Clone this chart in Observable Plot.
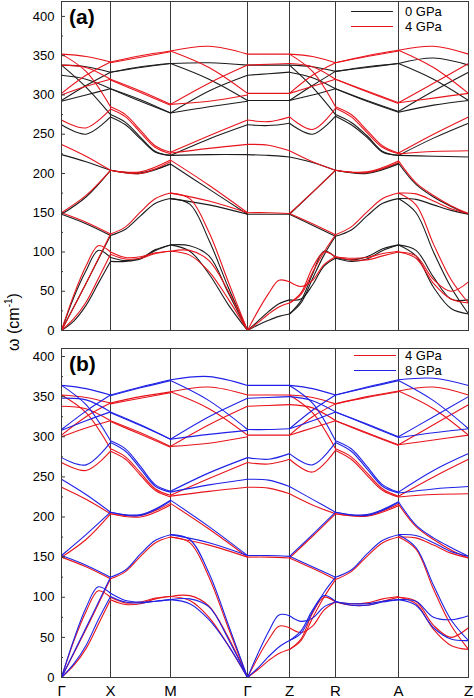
<!DOCTYPE html>
<html><head><meta charset="utf-8">
<script src="https://cdn.jsdelivr.net/npm/d3@7"></script>
<script src="https://cdn.jsdelivr.net/npm/@observablehq/plot@0.6"></script>
<style>
body{margin:0;background:#fff;font-family:"Liberation Sans",Arial,sans-serif;}
#wrap{position:relative;width:474px;height:698px;overflow:hidden;}
#wrap svg{display:block;}
.lab{position:absolute;font-weight:bold;font-size:21px;color:#000;line-height:1;}
.leg{position:absolute;font-size:13px;color:#000;line-height:1;}
.legline{position:absolute;height:0;border-top:1.2px solid;}
#ytitle{position:absolute;left:13px;top:322px;transform:translate(-50%,-50%) rotate(-90deg);font-size:16px;white-space:nowrap;}
#ytitle sup{font-size:10px;}
</style></head><body><div id="wrap">
<div id="pa"></div><div id="pb"></div>
</div>
<script>
// high-symmetry path (cumulative distance) and labels
const kLabels = ["Γ","X","M","Γ","Z","R","A","Z"];
const kPos = [0, 49, 109, 186, 228, 274, 337, 407];
const yTicks = [0,50,100,150,200,250,300,350,400];
const yMinor = [25,75,125,175,225,275,325,375];

// ---------- 0 GPa (black) : values spread evenly along each segment ----------
const g0_GX = [[338,336,329],[338,310,275],[325,320,308],[293,312,329],[292,300,308],[262,250,272],[224,215,204],[148,170,204],[148,136,121],[0,60,121],[0,42,76,102,93],[0,12,32,60,88]];
const g0_XM = [[329,336,340],[329,335,340],[308,294,277],[308,292,277],[275,265,246,228,223],[272,262,244,227,223],[204,201,212],[204,200,212],[121,129,146,162,168],[93,89,92,103,109],[88,88,91,102,109]];
const g0_MG = [[340,341,338],[340,320,293],[277,305,325],[277,285,292],[223,244,262],[223,224,224],[212,180,148],[168,160,148],[168,161,115,55,0],[109,108,95,48,0],[109,101,72,33,0]];
const g0_GZ = [[338,338,338],[325,327,329],[293,293,293],[262,261,264],[224,223,221],[148,148,148],[0,12,24,34,39],[0,7,13,18,21]];
const g0_ZR = [[338,336,330],[338,310,275],[329,322,308],[293,312,330],[293,300,308],[264,250,273],[221,214,204],[148,176,204],[148,134,120],[39,40,58,82,92],[21,38,72,101,93],[21,35,66,96,120]];
const g0_RA = [[330,336,340],[330,335,340],[308,293,279],[308,292,278],[275,265,248,228,223],[273,262,246,227,223],[204,201,213],[204,200,212],[120,128,146,162,168],[93,90,94,104,109],[92,88,91,102,109]];
const g0_AZ = [[340,347,338],[340,320,293],[279,305,329],[278,287,293],[223,245,264],[223,222,221],[213,186,170,158,148],[168,167,160,153,148],[109,102,68,40,39],[109,95,55,28,21],[168,150,100,55,21]];

// ---------- 4 GPa (red) ----------
const g4_GX = [[352,349,342],[352,330,285],[338,335,320],[302,325,342],[300,311,320],[268,258,282],[237,222,204],[150,172,204],[150,138,123],[0,60,123],[0,45,82,108,100],[0,15,36,66,97]];
const g4_XM = [[342,350,356],[341,348,355],[320,305,288],[319,303,287],[285,275,255,235,227],[282,272,252,233,225],[204,202,217],[204,200,215],[123,132,151,168,175],[100,93,94,99,101],[97,91,92,98,101]];
const g4_MG = [[356,362,352],[356,335,302],[288,315,338],[288,292,300],[227,248,268],[226,232,237],[217,185,150],[175,165,150],[175,168,125,62,0],[101,102,89,50,0],[101,96,75,40,0]];
const g4_GZ = [[352,352,352],[338,339,340],[302,302,302],[268,266,272],[237,236,229],[150,150,149],[0,25,47,64,62],[0,10,21,30,35]];
const g4_ZR = [[352,349,341],[352,330,285],[340,336,320],[302,325,341],[302,311,320],[272,256,283],[229,215,204],[149,176,204],[149,136,122],[62,56,64,84,94],[35,48,80,100,94],[35,46,74,100,122]];
const g4_RA = [[341,350,357],[341,349,356],[320,305,290],[320,304,289],[285,275,255,235,226],[283,272,252,233,225],[204,202,216],[204,201,214],[122,132,151,168,175],[94,90,90,95,100],[94,92,93,98,101]];
const g4_AZ = [[357,362,352],[357,335,302],[290,315,340],[290,296,302],[226,250,272],[225,228,229],[216,188,172,159,149],[175,174,165,155,149],[100,95,65,50,62],[100,92,60,40,35],[175,160,110,65,35]];

// ---------- 8 GPa (blue) ----------
const g8_GX = [[364,360,352],[364,340,295],[348,346,331],[309,332,352],[308,320,331],[274,265,293],[247,228,206],[152,178,206],[152,140,125],[0,62,125],[0,47,87,113,105],[0,17,40,72,101]];
const g8_XM = [[352,362,371],[351,361,370],[331,315,297],[330,314,297],[295,285,263,240,232],[293,282,260,238,231],[206,203,221],[206,202,220],[125,134,154,171,178],[105,96,94,95,97],[101,94,93,95,97]];
const g8_MG = [[371,375,364],[370,345,309],[297,325,348],[297,303,308],[232,255,274],[231,240,247],[221,188,152],[178,168,152],[178,172,130,66,0],[97,98,88,48,0],[97,92,72,40,0]];
const g8_GZ = [[364,364,364],[348,349,350],[309,309,310],[274,272,279],[247,246,238],[152,152,151],[0,30,57,78,77],[0,12,26,38,46]];
const g8_ZR = [[364,360,352],[364,342,295],[350,345,331],[310,333,352],[310,320,331],[279,265,293],[238,222,206],[151,178,206],[151,138,125],[77,70,74,88,94],[46,58,84,102,95],[46,55,82,106,125]];
const g8_RA = [[352,362,371],[352,361,370],[331,316,300],[331,315,299],[295,285,263,240,231],[293,282,260,238,230],[206,203,219],[206,202,218],[125,134,154,171,178],[94,92,92,95,97],[95,90,90,94,97]];
const g8_AZ = [[371,373,364],[370,345,310],[300,325,350],[299,305,310],[231,258,279],[230,235,238],[219,190,174,162,151],[178,177,168,157,151],[97,95,75,72,77],[97,90,62,48,46],[178,162,115,72,46]];

const segs0 = [g0_GX,g0_XM,g0_MG,g0_GZ,g0_ZR,g0_RA,g0_AZ];
const segs4 = [g4_GX,g4_XM,g4_MG,g4_GZ,g4_ZR,g4_RA,g4_AZ];
const segs8 = [g8_GX,g8_XM,g8_MG,g8_GZ,g8_ZR,g8_RA,g8_AZ];

function toRows(segs, tag) {
  const out = [];
  segs.forEach((lines, s) => {
    lines.forEach((vals, i) => {
      const n = vals.length;
      vals.forEach((v, j) => out.push({id: tag + "-" + s + "-" + i, x: kPos[s] + (kPos[s+1] - kPos[s]) * j / (n - 1), y: v}));
    });
  });
  return out;
}
const rows0 = toRows(segs0, "p0");
const rows4 = toRows(segs4, "p4");
const rows8 = toRows(segs8, "p8");

const BLACK = "#1c1c1c", RED = "#e8141c", BLUE = "#1f22e6", FRAME = "#3a3a3a";
const lineOpts = (c) => ({x: "x", y: "y", z: "id", stroke: c, strokeWidth: 1.1, curve: "catmull-rom"});

function panel(opts) {
  return Plot.plot({
    width: 474, height: opts.height,
    marginLeft: 61, marginRight: 6, marginTop: opts.mt, marginBottom: opts.mb,
    style: {fontFamily: "'Liberation Sans', Arial, sans-serif", fontSize: "13px", background: "#fff", color: "#000"},
    x: {domain: [0, 407]},
    y: {domain: opts.ydom},
    marks: [
      Plot.ruleX(kPos.slice(1, -1), {stroke: FRAME, strokeWidth: 1}),
      Plot.line(opts.rowsA, lineOpts(opts.colA)),
      Plot.line(opts.rowsB, lineOpts(opts.colB)),
      Plot.ruleY(yTicks.slice(1), {x1: 0, x2: 4, stroke: FRAME}),
      Plot.ruleY(yMinor, {x1: 0, x2: 2, stroke: FRAME}),
      Plot.frame({stroke: FRAME, strokeWidth: 1}),
      Plot.axisY({ticks: yTicks, tickSize: 0, tickPadding: 7, label: null, fontSize: 13}),
      opts.xaxis
        ? Plot.axisX({ticks: kPos, tickFormat: d => kLabels[kPos.indexOf(d)], tickSize: 0, tickPadding: 8, label: null, fontSize: 15})
        : Plot.axisX({ticks: [], label: null, tickSize: 0})
    ]
  });
}

document.getElementById("pa").appendChild(panel({height: 338, mt: 1, mb: 8, ydom: [0, 419], rowsA: rows0, colA: BLACK, rowsB: rows4, colB: RED, xaxis: false}));
document.getElementById("pb").appendChild(panel({height: 360, mt: 10, mb: 21, ydom: [0, 410], rowsA: rows4, colA: RED, rowsB: rows8, colB: BLUE, xaxis: true}));

// overlays: panel labels, legends, y title
const wrap = document.getElementById("wrap");
function add(html) { wrap.insertAdjacentHTML("beforeend", html); }
add('<div class="lab" style="left:69px;top:6px;">(a)</div>');
add('<div class="lab" style="left:69px;top:353px;">(b)</div>');
const legA = [["0 GPa", BLACK, 11], ["4 GPa", RED, 26]];
const legB = [["4 GPa", RED, 355], ["8 GPa", BLUE, 370]];
[[legA, 351], [legB, 354]].forEach(([items, x0]) => {
  items.forEach(([t, c, y]) => {
    add(`<div class="legline" style="left:${x0}px;top:${y}px;width:42px;border-color:${c};"></div>`);
    add(`<div class="leg" style="left:405px;top:${y - 6.5}px;">${t}</div>`);
  });
});
add('<div id="ytitle">ω (cm<sup>-1</sup>)</div>');
</script>
</body></html>
